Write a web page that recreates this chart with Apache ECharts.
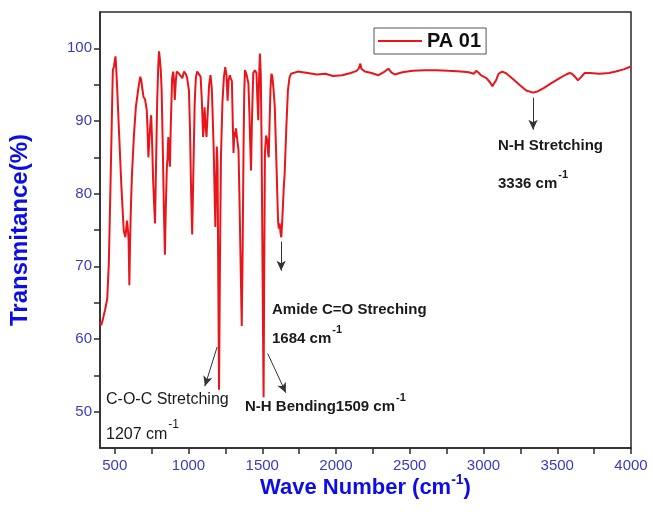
<!DOCTYPE html>
<html>
<head>
<meta charset="utf-8">
<script src="https://cdn.jsdelivr.net/npm/echarts@6/dist/echarts.min.js"></script>
<style>
  html, body { margin: 0; padding: 0; background: #ffffff; }
  #chart { width: 653px; height: 523px; }
</style>
</head>
<body>
<div id="chart"></div>
<script>
// FTIR spectrum of sample PA 01: wavenumber (cm-1) vs transmittance (%)
const seriesName = 'PA 01';

const wavenumber = [
  400, 408, 418, 434, 449, 460, 472, 480, 487, 495, 500, 505, 510, 516, 530, 545, 561, 572, 583, 590,
  594, 599, 604, 610, 617, 630, 643, 660, 673, 680, 688, 695, 705, 717, 722, 728, 735, 741, 747, 752,
  760, 766, 773, 780, 788, 795, 800, 806, 812, 818, 826, 833, 840, 846, 853, 858, 863, 868, 874, 880,
  889, 896, 902, 907, 914, 920, 936, 945, 958, 970, 981, 990, 1003, 1010, 1018, 1025, 1032, 1042, 1050, 1059,
  1070, 1082, 1090, 1099, 1104, 1109, 1115, 1122, 1130, 1140, 1149, 1158, 1165, 1171, 1177, 1182, 1186, 1192, 1197, 1202,
  1207, 1213, 1220, 1230, 1240, 1249, 1258, 1265, 1272, 1280, 1288, 1294, 1300, 1305, 1311, 1316, 1322, 1330, 1339, 1345,
  1352, 1361, 1367, 1373, 1378, 1383, 1392, 1406, 1413, 1419, 1424, 1430, 1439, 1450, 1461, 1467, 1473, 1478, 1484, 1490,
  1495, 1500, 1505, 1509, 1513, 1518, 1526, 1535, 1540, 1544, 1550, 1556, 1562, 1568, 1576, 1585, 1595, 1607, 1612, 1618,
  1624, 1629, 1636, 1645, 1652, 1663, 1674, 1685, 1695, 1707, 1741, 1808, 1870, 1928, 1980, 2042, 2100, 2140, 2154, 2160,
  2165, 2172, 2196, 2240, 2288, 2330, 2355, 2375, 2398, 2450, 2520, 2599, 2680, 2760, 2847, 2900, 2934, 2950, 2959, 2970,
  2981, 3020, 3045, 3060, 3070, 3085, 3102, 3126, 3150, 3182, 3215, 3249, 3290, 3336, 3370, 3405, 3460, 3517, 3560, 3584,
  3600, 3620, 3640, 3660, 3685, 3720, 3786, 3850, 3897, 3950, 4000
];

const transmittance = [
  62.3, 61.9, 62.6, 64.0, 65.5, 70.5, 82.0, 90.0, 97.0, 97.5, 98.3, 98.9, 97.2, 94.7, 88.0, 81.0, 74.9, 74.0, 76.3, 74.8,
  73.6, 67.4, 73.6, 78.5, 82.8, 88.0, 91.9, 94.5, 96.1, 95.6, 94.3, 93.3, 93.0, 91.5, 89.0, 85.0, 87.5, 89.5, 90.8, 88.0,
  82.0, 79.0, 75.9, 84.0, 93.0, 97.5, 99.6, 98.5, 97.0, 94.2, 86.0, 78.0, 71.6, 78.0, 83.5, 85.0, 87.8, 85.5, 83.7, 89.5,
  95.9, 96.8, 95.5, 92.9, 95.5, 96.8, 96.5, 96.6, 95.9, 96.8, 96.5, 96.0, 94.2, 89.0, 80.0, 74.4, 82.0, 92.5, 96.0, 96.8,
  96.6, 96.1, 93.0, 87.8, 89.5, 91.9, 89.5, 87.8, 91.0, 95.0, 96.3, 94.5, 90.0, 86.0, 80.0, 75.4, 80.0, 86.5, 84.0, 68.0,
  53.0, 70.0, 85.0, 92.5, 96.0, 97.4, 96.2, 92.8, 95.6, 96.3, 95.8, 95.5, 90.0, 85.6, 88.5, 87.8, 89.0, 87.5, 86.0, 80.0,
  72.0, 61.8, 72.0, 86.0, 94.0, 97.0, 96.5, 95.2, 91.0, 86.5, 83.2, 90.0, 96.6, 97.0, 96.6, 93.0, 90.1, 95.5, 99.3, 96.5,
  88.0, 75.0, 62.0, 52.0, 68.0, 85.6, 88.0, 87.3, 85.5, 85.0, 90.0, 94.5, 96.5, 96.2, 94.5, 91.9, 85.0, 76.3, 75.2, 75.9,
  74.6, 74.0, 76.5, 80.5, 82.8, 89.0, 94.2, 96.0, 96.5, 96.6, 96.8, 96.6, 96.4, 96.5, 96.2, 96.3, 96.6, 96.9, 97.2, 97.5,
  97.9, 97.2, 96.8, 96.6, 96.3, 96.8, 97.2, 96.7, 96.4, 96.7, 96.9, 97.0, 97.0, 96.9, 96.8, 96.7, 96.5, 96.9, 96.8, 96.6,
  96.3, 95.9, 95.3, 94.8, 94.7, 95.6, 96.5, 96.8, 96.6, 96.1, 95.5, 94.9, 94.2, 93.9, 94.1, 94.5, 95.2, 95.9, 96.4, 96.6,
  96.5, 96.1, 95.6, 96.0, 96.6, 96.6, 96.5, 96.6, 96.8, 97.1, 97.5
];

// Axis ticks and labels
const xTickLabels = [500, 1000, 1500, 2000, 2500, 3000, 3500, 4000];
const xTickMarks = [500, 750, 1000, 1250, 1500, 1750, 2000, 2250, 2500, 2750, 3000, 3250, 3500, 3750, 4000];
const yTickLabels = [50, 60, 70, 80, 90, 100];
const yTickMarks = [50, 55, 60, 65, 70, 75, 80, 85, 90, 95, 100];

// Band assignment arrows: [x0, y0, x1, y1] in data units
const arrowNHStretch = [3336, 93.2, 3336, 88.8];
const arrowAmide = [1628, 73.4, 1628, 69.4];
const arrowCOC = [1194, 58.9, 1111, 53.5];
const arrowNHBend = [1537, 58.0, 1660, 52.6];

const FONT = "'Liberation Sans', Arial, Helvetica, sans-serif";
const TICK_BLUE = '#3a3ac4';
const TITLE_BLUE = '#0d0de8';
const FRAME = '#2a2a2a';
const RED = '#e8151b';

const chart = echarts.init(document.getElementById('chart'), null, { renderer: 'canvas' });

const points = wavenumber.map((w, i) => [w, transmittance[i]]);

function arrowPair(a) {
  return [{ coord: [a[0], a[1]] }, { coord: [a[2], a[3]] }];
}

// measure text width for superscript placement
const measureCtx = document.createElement('canvas').getContext('2d');
function textWidth(str, size, weight) {
  measureCtx.font = weight + ' ' + size + 'px ' + FONT;
  return measureCtx.measureText(str).width;
}

function label(x, y, str, size, weight) {
  return {
    type: 'text', x: x, y: y, silent: true,
    style: {
      text: str, fill: '#1a1a1a', font: weight + ' ' + size + 'px ' + FONT,
      textAlign: 'left', textVerticalAlign: 'middle', align: 'left', verticalAlign: 'middle'
    }
  };
}

function withSup(x, y, main, sup, size, weight) {
  const w = textWidth(main, size, weight);
  return [
    label(x, y, main, size, weight),
    label(x + w + 1, y - size * 0.62, sup, Math.round(size * 0.72), weight)
  ];
}

const annotations = [].concat(
  [label(498, 146, 'N-H Stretching', 15, 'bold')],
  withSup(498, 184, '3336 cm', '-1', 15, 'bold'),
  [label(272, 310, 'Amide C=O Streching', 15, 'bold')],
  withSup(272, 339, '1684 cm', '-1', 15, 'bold'),
  [label(106, 400, 'C-O-C Stretching', 16, 'normal')],
  withSup(106, 435, '1207 cm', '-1', 16, 'normal'),
  withSup(245, 407, 'N-H Bending1509 cm', '-1', 15, 'bold')
);

const plainNumber = v => String(v);

const option = {
  animation: false,
  backgroundColor: '#ffffff',
  grid: {
    left: 96, right: 22, top: 12, bottom: 75,
    show: true, borderColor: FRAME, borderWidth: 1.5, backgroundColor: 'transparent'
  },
  legend: {
    show: true,
    data: [{ name: seriesName, icon: 'rect' }],
    left: 374, top: 28,
    orient: 'horizontal',
    itemWidth: 44, itemHeight: 2,
    padding: [3, 5, 3, 4],
    borderColor: '#555555', borderWidth: 1,
    backgroundColor: '#ffffff',
    textStyle: { fontFamily: FONT, fontSize: 20, fontWeight: 'bold', color: '#111111' }
  },
  xAxis: {
    type: 'value', min: 400, max: 4000,
    axisLine: { show: true, onZero: false, lineStyle: { color: FRAME, width: 1.5 } },
    axisTick: { show: true, length: 6, lineStyle: { color: FRAME, width: 1.5 }, customValues: xTickMarks },
    axisLabel: { customValues: xTickLabels, formatter: plainNumber, color: TICK_BLUE, fontFamily: FONT, fontSize: 15, margin: 10 },
    splitLine: { show: false },
    name: '{a|Wave Number (cm}{s|-1}{a|)}',
    nameLocation: 'middle',
    nameGap: 25,
    nameMoveOverlap: false,
    nameTextStyle: {
      rich: {
        a: { fontFamily: FONT, fontSize: 22, fontWeight: 'bold', color: TITLE_BLUE, lineHeight: 30 },
        s: { fontFamily: FONT, fontSize: 14, fontWeight: 'bold', color: TITLE_BLUE, lineHeight: 16, verticalAlign: 'top' }
      }
    }
  },
  yAxis: {
    type: 'value', min: 45, max: 105,
    axisLine: { show: true, onZero: false, lineStyle: { color: FRAME, width: 1.5 } },
    axisTick: { show: true, length: 6, lineStyle: { color: FRAME, width: 1.5 }, customValues: yTickMarks },
    axisLabel: { customValues: yTickLabels, formatter: plainNumber, color: TICK_BLUE, fontFamily: FONT, fontSize: 15, margin: 8 },
    splitLine: { show: false },
    name: 'Transmitance(%)',
    nameLocation: 'middle',
    nameGap: 68,
    nameMoveOverlap: false,
    nameTextStyle: { fontFamily: FONT, fontSize: 24, fontWeight: 'bold', color: TITLE_BLUE }
  },
  series: [{
    name: seriesName,
    type: 'line',
    data: points,
    showSymbol: false,
    symbol: 'none',
    smooth: false,
    lineStyle: { color: RED, width: 2 },
    itemStyle: { color: RED },
    emphasis: { disabled: true },
    markLine: {
      silent: true,
      animation: false,
      symbol: ['none', 'arrow'],
      symbolSize: [7, 10],
      label: { show: false },
      lineStyle: { color: '#333333', width: 1, type: 'solid' },
      emphasis: { disabled: true },
      data: [arrowPair(arrowNHStretch), arrowPair(arrowAmide), arrowPair(arrowCOC), arrowPair(arrowNHBend)]
    }
  }],
  graphic: annotations
};

chart.setOption(option);
</script>
</body>
</html>
